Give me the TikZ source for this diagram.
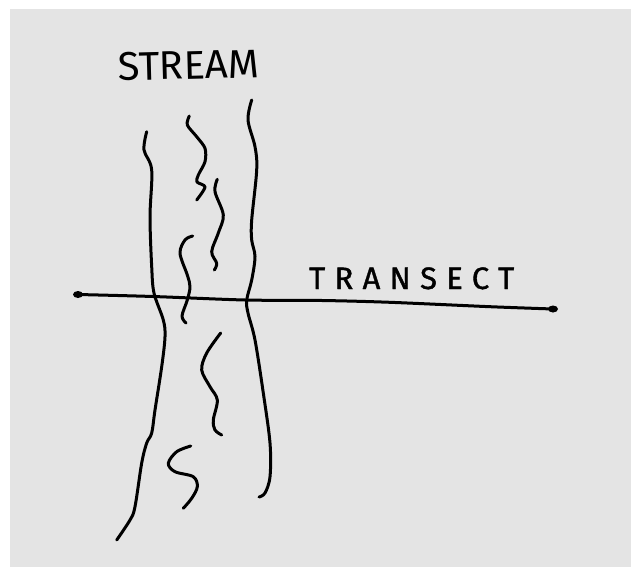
\documentclass[tikz,border=0pt]{standalone}
\usepackage{fontspec}
\setmainfont{Fira Sans}
\usetikzlibrary{shapes.geometric}
\definecolor{paper}{RGB}{228,228,228}
\begin{document}
\begin{tikzpicture}[x=1pt,y=-1pt,
  ink/.style={line width=3pt, line cap=round, line join=round, black},
  handtext/.style={inner sep=0pt, anchor=base west, text=black},
  enddot/.style={ellipse, fill=black, inner sep=0pt, minimum width=10pt, minimum height=7pt}]
\useasboundingbox (0,0) rectangle (631,567);
\fill[white] (0,0) rectangle (631,567);
\fill[paper] (10,9) rectangle (631,567);
% left bank
\draw[ink] plot[smooth, tension=0.55] coordinates {(146.7,131.7) (144,150) (151.7,170) (150,216.7) (151.7,266.7) (154,293) (163.3,320) (165,336.7) (161.7,366.7) (155,410) (151.7,433) (146.7,443) (141.7,463) (135,506.7) (130,520) (116.7,540)};
% right bank
\draw[ink] plot[smooth, tension=0.55] coordinates {(251.7,100) (248,120) (255,146.7) (256.7,170) (251.7,220) (251.7,240) (255,256.7) (251.7,280) (246.7,300) (248,313) (255,340) (263.3,393) (270,443) (270,476.7) (265,493) (259,497)};
% current squiggles
\draw[ink] plot[smooth, tension=0.5] coordinates {(189.3,116) (187.3,125) (196.7,136.7) (205,148.3) (205,161.7) (198.3,175) (197,182) (205,187) (196.7,200)};
\draw[ink] plot[smooth, tension=0.55] coordinates {(217.3,179.3) (215,191.7) (223.3,215) (218.3,233) (211.7,251.7) (216.7,263.3) (214.3,270)};
\draw[ink] plot[smooth, tension=0.55] coordinates {(192.7,236) (185,240) (180,253.3) (187.3,275) (190,286.7) (187.3,300) (182,316) (186,323)};
\draw[ink] plot[smooth, tension=0.55] coordinates {(220.7,333) (206.7,353) (201.7,370) (210,386.7) (217.3,400) (213.3,420) (215,430) (221.7,435)};
\draw[ink] plot[smooth, tension=0.55] coordinates {(190.7,446) (176.7,451.7) (168.3,463.3) (175,471.7) (193.3,476.7) (197.3,486.7) (191.7,498.3) (183.3,508.3)};
% transect
\node[enddot] (tl) at (78,294.5) {};
\node[enddot] (tr) at (553,309) {};
\draw[ink] plot[smooth, tension=0.5] coordinates {(tl.center) (153,296.5) (245,300) (322,300.5) (390,302.3) (490,306.7) (tr.center)};
% labels
\node[handtext, font=\fontsize{40}{40}\selectfont, rotate=1.5] (stream) at (118,81) {STREAM};
\node[handtext, font=\fontsize{31}{31}\selectfont\addfontfeature{LetterSpace=30,FakeBold=1.2}] (transect) at (309,289) {TRANSECT};
\end{tikzpicture}
\end{document}
